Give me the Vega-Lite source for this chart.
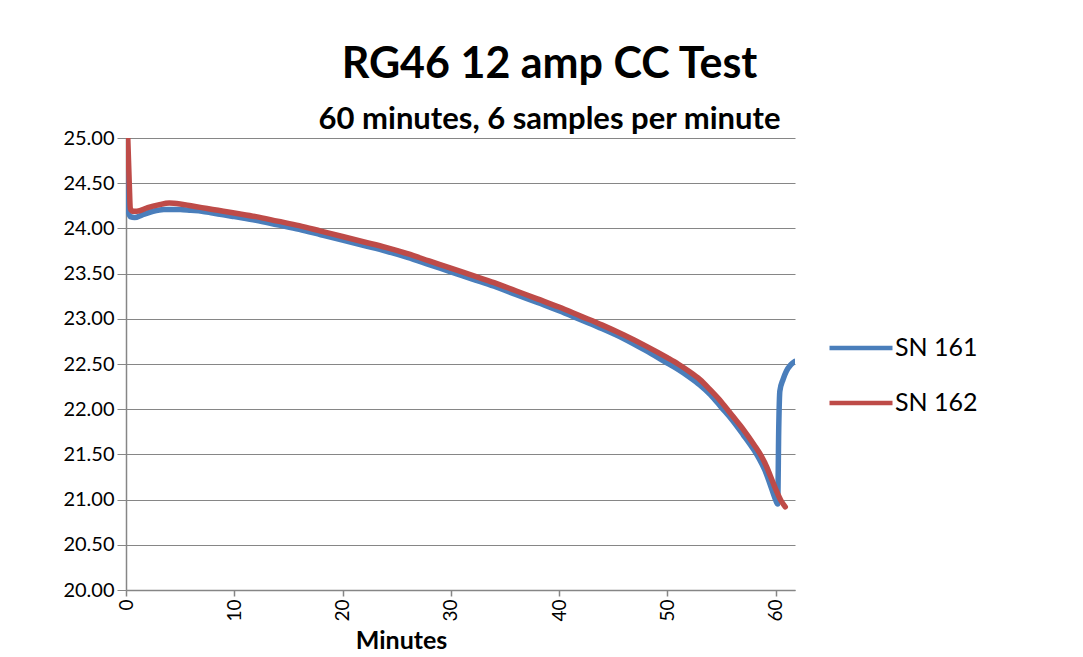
{
  "$schema": "https://vega.github.io/schema/vega-lite/v6.json",
  "autosize": "none",
  "width": 669,
  "height": 452,
  "padding": {"left": 126, "top": 138, "right": 288, "bottom": 67},
  "background": "white",
  "config": {
    "font": "Lato",
    "view": {"stroke": null}
  },
  "title": {
    "text": "RG46 12 amp CC Test",
    "subtitle": "60 minutes, 6 samples per minute",
    "fontSize": 43,
    "fontWeight": "bold",
    "font": "Lato",
    "color": "#000000",
    "subtitleFontSize": 31,
    "subtitleFontWeight": "bold",
    "subtitleFont": "Lato",
    "subtitleColor": "#000000",
    "subtitlePadding": 18,
    "offset": -7,
    "anchor": "middle",
    "dx": 89
  },
  "data": {
    "values": [
      {"t": 0, "sn": "SN 161", "v": 25.6},
      {"t": 0.12, "sn": "SN 161", "v": 24.25},
      {"t": 0.4, "sn": "SN 161", "v": 24.13},
      {"t": 0.8, "sn": "SN 161", "v": 24.12},
      {"t": 1.5, "sn": "SN 161", "v": 24.15},
      {"t": 2.5, "sn": "SN 161", "v": 24.19},
      {"t": 3.5, "sn": "SN 161", "v": 24.21},
      {"t": 5, "sn": "SN 161", "v": 24.21},
      {"t": 6, "sn": "SN 161", "v": 24.2},
      {"t": 7, "sn": "SN 161", "v": 24.19},
      {"t": 8, "sn": "SN 161", "v": 24.17},
      {"t": 9, "sn": "SN 161", "v": 24.15},
      {"t": 10, "sn": "SN 161", "v": 24.13},
      {"t": 12, "sn": "SN 161", "v": 24.09},
      {"t": 14, "sn": "SN 161", "v": 24.04},
      {"t": 16, "sn": "SN 161", "v": 23.99},
      {"t": 18, "sn": "SN 161", "v": 23.93},
      {"t": 20, "sn": "SN 161", "v": 23.87},
      {"t": 22, "sn": "SN 161", "v": 23.81},
      {"t": 24, "sn": "SN 161", "v": 23.75},
      {"t": 26, "sn": "SN 161", "v": 23.68},
      {"t": 28, "sn": "SN 161", "v": 23.6},
      {"t": 30, "sn": "SN 161", "v": 23.52},
      {"t": 32, "sn": "SN 161", "v": 23.44},
      {"t": 34, "sn": "SN 161", "v": 23.36},
      {"t": 36, "sn": "SN 161", "v": 23.27},
      {"t": 38, "sn": "SN 161", "v": 23.18},
      {"t": 40, "sn": "SN 161", "v": 23.09},
      {"t": 42, "sn": "SN 161", "v": 22.99},
      {"t": 44, "sn": "SN 161", "v": 22.89},
      {"t": 46, "sn": "SN 161", "v": 22.78},
      {"t": 48, "sn": "SN 161", "v": 22.65},
      {"t": 50, "sn": "SN 161", "v": 22.51},
      {"t": 51, "sn": "SN 161", "v": 22.44},
      {"t": 52, "sn": "SN 161", "v": 22.36},
      {"t": 53, "sn": "SN 161", "v": 22.27},
      {"t": 54, "sn": "SN 161", "v": 22.16},
      {"t": 55, "sn": "SN 161", "v": 22.02},
      {"t": 56, "sn": "SN 161", "v": 21.88},
      {"t": 57, "sn": "SN 161", "v": 21.72},
      {"t": 58, "sn": "SN 161", "v": 21.55},
      {"t": 58.5, "sn": "SN 161", "v": 21.45},
      {"t": 59, "sn": "SN 161", "v": 21.33},
      {"t": 59.5, "sn": "SN 161", "v": 21.17},
      {"t": 60, "sn": "SN 161", "v": 21.0},
      {"t": 60.2, "sn": "SN 161", "v": 20.95},
      {"t": 60.3, "sn": "SN 161", "v": 21.8},
      {"t": 60.4, "sn": "SN 161", "v": 22.2},
      {"t": 60.7, "sn": "SN 161", "v": 22.33},
      {"t": 61.0, "sn": "SN 161", "v": 22.42},
      {"t": 61.4, "sn": "SN 161", "v": 22.49},
      {"t": 61.8, "sn": "SN 161", "v": 22.53},
      {"t": 0, "sn": "SN 162", "v": 25.6},
      {"t": 0.3, "sn": "SN 162", "v": 24.5},
      {"t": 0.4, "sn": "SN 162", "v": 24.22},
      {"t": 0.6, "sn": "SN 162", "v": 24.19},
      {"t": 1, "sn": "SN 162", "v": 24.19},
      {"t": 2, "sn": "SN 162", "v": 24.23},
      {"t": 3, "sn": "SN 162", "v": 24.26},
      {"t": 4, "sn": "SN 162", "v": 24.28},
      {"t": 5, "sn": "SN 162", "v": 24.27},
      {"t": 6, "sn": "SN 162", "v": 24.25},
      {"t": 7, "sn": "SN 162", "v": 24.23},
      {"t": 8, "sn": "SN 162", "v": 24.21},
      {"t": 9, "sn": "SN 162", "v": 24.19},
      {"t": 10, "sn": "SN 162", "v": 24.17},
      {"t": 12, "sn": "SN 162", "v": 24.13},
      {"t": 14, "sn": "SN 162", "v": 24.08},
      {"t": 16, "sn": "SN 162", "v": 24.03},
      {"t": 18, "sn": "SN 162", "v": 23.97},
      {"t": 20, "sn": "SN 162", "v": 23.91},
      {"t": 22, "sn": "SN 162", "v": 23.85},
      {"t": 24, "sn": "SN 162", "v": 23.79},
      {"t": 26, "sn": "SN 162", "v": 23.72},
      {"t": 28, "sn": "SN 162", "v": 23.64},
      {"t": 30, "sn": "SN 162", "v": 23.56},
      {"t": 32, "sn": "SN 162", "v": 23.48},
      {"t": 34, "sn": "SN 162", "v": 23.4},
      {"t": 36, "sn": "SN 162", "v": 23.31},
      {"t": 38, "sn": "SN 162", "v": 23.22},
      {"t": 40, "sn": "SN 162", "v": 23.13},
      {"t": 42, "sn": "SN 162", "v": 23.03},
      {"t": 44, "sn": "SN 162", "v": 22.93},
      {"t": 46, "sn": "SN 162", "v": 22.82},
      {"t": 48, "sn": "SN 162", "v": 22.7},
      {"t": 50, "sn": "SN 162", "v": 22.57},
      {"t": 51, "sn": "SN 162", "v": 22.5},
      {"t": 52, "sn": "SN 162", "v": 22.42},
      {"t": 53, "sn": "SN 162", "v": 22.33},
      {"t": 54, "sn": "SN 162", "v": 22.21},
      {"t": 55, "sn": "SN 162", "v": 22.08},
      {"t": 56, "sn": "SN 162", "v": 21.93},
      {"t": 57, "sn": "SN 162", "v": 21.78},
      {"t": 58, "sn": "SN 162", "v": 21.61},
      {"t": 58.7, "sn": "SN 162", "v": 21.48},
      {"t": 59, "sn": "SN 162", "v": 21.41},
      {"t": 59.5, "sn": "SN 162", "v": 21.27},
      {"t": 60, "sn": "SN 162", "v": 21.12},
      {"t": 60.5, "sn": "SN 162", "v": 20.99},
      {"t": 60.9, "sn": "SN 162", "v": 20.92}
    ]
  },
  "mark": {"type": "line", "strokeWidth": 5.5, "clip": true, "interpolate": "monotone", "strokeCap": "round", "strokeJoin": "round"},
  "encoding": {
    "x": {
      "field": "t",
      "type": "quantitative",
      "scale": {"domain": [0, 61.8], "nice": false, "zero": false},
      "axis": {
        "title": "Minutes",
        "titleFont": "Lato",
        "titleFontSize": 25,
        "titleFontWeight": "bold",
        "titleColor": "#000000",
        "titleX": 275,
        "titleY": 50,
        "titleAlign": "center",
        "titleBaseline": "middle",
        "values": [0, 10, 20, 30, 40, 50, 60],
        "labelAngle": -90,
        "labelFontSize": 19,
        "labelColor": "#000000",
        "labelPadding": 3,
        "format": "d",
        "grid": false,
        "domainColor": "#868686",
        "domainWidth": 1.5,
        "tickColor": "#868686",
        "tickSize": 6,
        "tickWidth": 1.5,
        "labelFlush": false
      }
    },
    "y": {
      "field": "v",
      "type": "quantitative",
      "scale": {"domain": [20, 25], "nice": false, "zero": false},
      "axis": {
        "title": null,
        "values": [20, 20.5, 21, 21.5, 22, 22.5, 23, 23.5, 24, 24.5, 25],
        "format": ".2f",
        "labelFontSize": 20,
        "labelColor": "#000000",
        "labelPadding": 3,
        "tickSize": 9,
        "tickColor": "#868686",
        "tickWidth": 1,
        "grid": true,
        "gridColor": "#868686",
        "gridWidth": 1,
        "gridOpacity": 1,
        "domainColor": "#868686",
        "domainWidth": 1.5,
        "labelFlush": false
      }
    },
    "color": {
      "field": "sn",
      "type": "nominal",
      "scale": {"domain": ["SN 161", "SN 162"], "range": ["#4A7EBB", "#BE4B48"]},
      "legend": {
        "title": null,
        "orient": "none",
        "legendX": 701,
        "legendY": 176,
        "symbolType": "stroke",
        "symbolSize": 3969,
        "symbolStrokeWidth": 4.5,
        "rowPadding": 8,
        "labelFontSize": 25,
        "labelColor": "#000000",
        "labelOffset": 0,
        "labelFont": "Lato"
      }
    }
  }
}
